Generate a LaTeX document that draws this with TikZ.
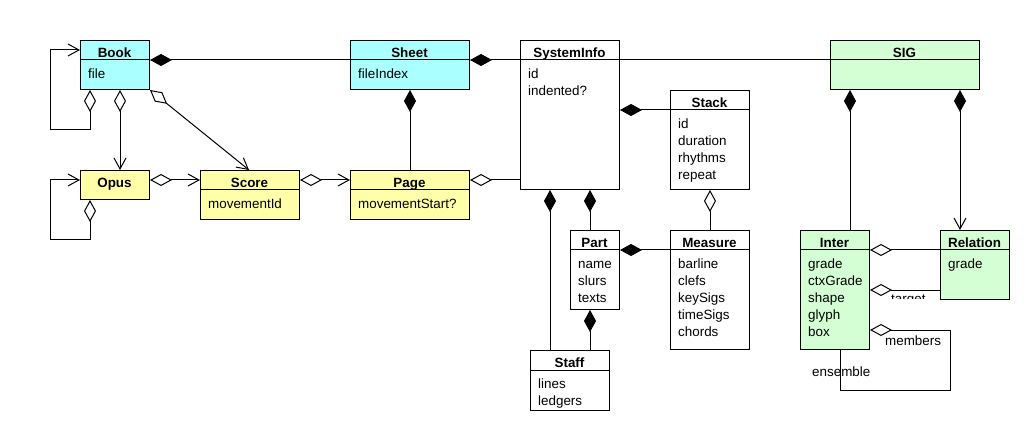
\documentclass[tikz,border=0pt]{standalone}
\usepackage{fontspec}
\setmainfont{Liberation Sans}
\usetikzlibrary{arrows.meta,calc}
\definecolor{clsCyan}{RGB}{170,255,255}
\definecolor{clsYellow}{RGB}{255,255,170}
\definecolor{clsGreen}{RGB}{212,255,212}
\tikzset{
  fdia/.tip={Diamond[length=22pt,width=12pt]},
  odia/.tip={Diamond[open,length=22pt,width=12pt]},
  >={Straight Barb[length=11pt,width=12pt]},
  clsbox/.style={draw=black, rectangle, anchor=north west, inner sep=0pt, line width=1pt},
  clstitle/.style={anchor=base, inner sep=0pt, font=\fontsize{13.4}{17}\selectfont\bfseries},
  clsattr/.style={anchor=north west, inner sep=0pt, align=left, font=\fontsize{13.4}{17}\selectfont},
  lbl/.style={anchor=base west, inner sep=0pt, font=\fontsize{13.4}{17}\selectfont},
  conn/.style={line width=1pt, line join=miter}
}
% name, x, y, w, h, fill, title, attributes
\newcommand{\umlbox}[8]{%
  \node[clsbox, fill=#6, minimum width=#4pt, minimum height=#5pt] (#1) at (#2,#3) {};
  \draw[line width=1pt] (#2,#3+20) -- (#2+#4,#3+20);
  \node[clstitle] (#1-t) at (#2+#4/2,#3+17.5) {#7};
  \node[clsattr] (#1-a) at (#2+8,#3+28.2) {\vphantom{l}#8};
}
\begin{document}
\begin{tikzpicture}[x=1pt,y=-1pt]
\fill[white] (0,0) rectangle (1030,430);
\useasboundingbox (0,0) rectangle (1030,430);

% classes
\umlbox{book}{80}{40}{69}{49}{clsCyan}{Book}{file}
\umlbox{sheet}{350}{40}{119}{49}{clsCyan}{Sheet}{fileIndex}
\umlbox{sysinfo}{520}{40}{99}{149}{white}{SystemInfo}{id\\indented?}
\umlbox{sig}{830}{40}{149}{49}{clsGreen}{SIG}{}
\node[clsbox, fill=clsYellow, minimum width=69pt, minimum height=29pt] (opus) at (80,170) {};
\node[clstitle] (opus-t) at (114.5,187.5) {Opus};
\umlbox{score}{200}{170}{99}{49}{clsYellow}{Score}{movementId}
\umlbox{page}{350}{170}{119}{49}{clsYellow}{Page}{movementStart?}
\umlbox{stack}{670}{90}{79}{99}{white}{Stack}{id\\duration\\rhythms\\repeat}
\umlbox{part}{570}{230}{49}{79}{white}{Part}{name\\slurs\\texts}
\umlbox{measure}{670}{230}{79}{119}{white}{Measure}{barline\\clefs\\keySigs\\timeSigs\\chords}
\umlbox{staff}{530}{350}{79}{60}{white}{Staff}{lines\\ledgers}
\umlbox{inter}{800}{230}{69}{119}{clsGreen}{Inter}{grade\\ctxGrade\\shape\\glyph\\box}
\umlbox{relation}{940}{230}{69}{69}{clsGreen}{Relation}{grade}

% connectors
\draw[conn, odia->] ([xshift=10pt]book.south west) -- (90,130) -- (50,130) -- (50,50) -- ([yshift=-10pt]book.north west);
\draw[conn, odia->] ([xshift=40pt]book.south west) -- ([xshift=40pt]opus.north west);
\draw[conn, odia->] (book.south east) -- ([xshift=49pt]score.north west);
\draw[conn, odia->] ([xshift=10pt]opus.south west) -- (90,240) -- (50,240) -- (50,180) -- ([yshift=-10pt]opus.north west);
\draw[conn, odia->] ([yshift=-10pt]opus.north east) -- ([yshift=-10pt]score.north west);
\draw[conn, odia->] ([yshift=-10pt]score.north east) -- ([yshift=-10pt]page.north west);
\draw[conn, fdia-] ([yshift=-20pt]book.north east) -- ([yshift=-20pt]sheet.north west);
\draw[conn, fdia-] ([yshift=-20pt]sheet.north east) -- ([yshift=-20pt]sysinfo.north west);
\draw[conn] ([yshift=-20pt]sysinfo.north east) -- ([yshift=-20pt]sig.north west);
\draw[conn, fdia-] (sheet.south) -- (page.north);
\draw[conn, odia-] ([yshift=-10pt]page.north east) -- ([yshift=-140pt]sysinfo.north west);
\draw[conn, fdia-] ([yshift=-70pt]sysinfo.north east) -- ([yshift=-20pt]stack.north west);
\draw[conn, fdia-] ([xshift=30pt]sysinfo.south west) -- ([xshift=20pt]staff.north west);
\draw[conn, fdia-] ([xshift=70pt]sysinfo.south west) -- ([xshift=20pt]part.north west);
\draw[conn, fdia-] ([xshift=20pt]part.south west) -- ([xshift=60pt]staff.north west);
\draw[conn, fdia-] ([yshift=-20pt]part.north east) -- ([yshift=-20pt]measure.north west);
\draw[conn, odia-] (stack.south) -- (measure.north);
\draw[conn, fdia-] ([xshift=20pt]sig.south west) -- ([xshift=50pt]inter.north west);
\draw[conn, fdia->] ([xshift=130pt]sig.south west) -- ([xshift=20pt]relation.north west);
\draw[conn, odia-] ([yshift=-20pt]inter.north east) -- ([yshift=-20pt]relation.north west);
\draw[conn, odia-] ([yshift=-60pt]inter.north east) -- ([yshift=-60pt]relation.north west);
\draw[conn, odia-] ([yshift=-100pt]inter.north east) -- (950,330) -- (950,390) -- (840,390) -- ([xshift=40pt]inter.south west);

% labels
\node[lbl] (members) at (885,345) {members};
\node[lbl] (ensemble) at (812,376) {ensemble};
\begin{scope}
  \clip (880,285) rectangle (938,298.5);
  \node[lbl] (target) at (891,303.5) {target};
\end{scope}
\end{tikzpicture}
\end{document}
